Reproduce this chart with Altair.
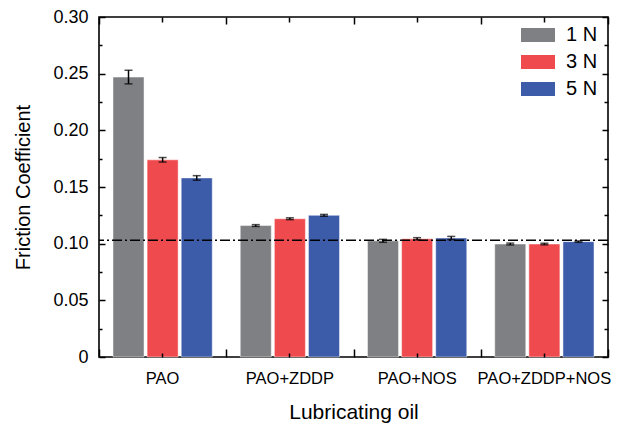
import altair as alt
import pandas as pd

oils = ["PAO", "PAO+ZDDP", "PAO+NOS", "PAO+ZDDP+NOS"]
loads = ["1 N", "3 N", "5 N"]
f_1n = [0.247, 0.116, 0.1025, 0.0997]
f_3n = [0.174, 0.122, 0.1043, 0.0997]
f_5n = [0.158, 0.125, 0.1050, 0.1018]
err_1n = [0.006, 0.0008, 0.0013, 0.0008]
err_3n = [0.002, 0.0008, 0.0010, 0.0007]
err_5n = [0.002, 0.0008, 0.0014, 0.0006]
ref_line = [0.103]
colors = ["#7f8083", "#ef4b4e", "#3c5ba9"]
y_major = [0, 0.05, 0.10, 0.15, 0.20, 0.25, 0.30]
y_minor = [0.025, 0.075, 0.125, 0.175, 0.225, 0.275]

rows = []
for load, fs, es in zip(loads, [f_1n, f_3n, f_5n], [err_1n, err_3n, err_5n]):
    for oil, f, e in zip(oils, fs, es):
        rows.append({"oil": oil, "load": load, "f": f, "lo": f - e, "hi": f + e})
df = pd.DataFrame(rows)
caps = df.melt(id_vars=["oil", "load"], value_vars=["lo", "hi"], value_name="cap")
line_df = pd.DataFrame({"y": ref_line})

W, H = 509, 340
FONT = "Liberation Sans"

xscale = alt.Scale(domain=oils, paddingInner=0, paddingOuter=0)
yscale = alt.Scale(domain=[0, 0.30], nice=False)
xoff = alt.XOffset("load:N", scale=alt.Scale(domain=loads, paddingInner=0.09, paddingOuter=0.41))


def tickax(**kw):
    base = dict(labels=False, domain=False, title=None, tickColor="black", tickWidth=1.5,
                zindex=1, grid=False)
    base.update(kw)
    return alt.Axis(**base)


bars = alt.Chart(df).mark_bar(stroke="white", strokeWidth=0.8, strokeOpacity=0.6).encode(
    x=alt.X("oil:N", scale=xscale, sort=oils,
            axis=alt.Axis(title="Lubricating oil", ticks=False, domain=False, labelAngle=0,
                          labelFontSize=16.5, labelColor="black", labelPadding=13,
                          titleFontSize=21, titleFontWeight="normal", titleColor="black",
                          titlePadding=15, grid=False)),
    xOffset=xoff,
    y=alt.Y("f:Q", scale=yscale,
            axis=alt.Axis(title="Friction Coefficient", values=y_major, ticks=False, domain=False,
                          labelExpr="datum.value == 0 ? '0' : format(datum.value, '.2f')",
                          labelFontSize=18, labelColor="black", labelPadding=11,
                          titleFontSize=20, titleFontWeight="normal", titleColor="black",
                          titlePadding=19, grid=False)),
    color=alt.Color("load:N", scale=alt.Scale(domain=loads, range=colors),
                    legend=alt.Legend(title=None, orient="none", legendX=422, legendY=1,
                                      symbolType="M-1,-0.41H1V0.41H-1Z", symbolSize=1156,
                                      symbolStrokeWidth=0, symbolOpacity=1,
                                      labelFontSize=20, labelColor="black", labelOffset=11,
                                      rowPadding=-8)),
)

rules = alt.Chart(df).mark_rule(color="black", strokeWidth=1.5).encode(
    x=alt.X("oil:N", scale=xscale, sort=oils,
            axis=tickax(orient="top", offset=-H, tickBand="extent", tickSize=8)),
    xOffset=xoff,
    y=alt.Y("lo:Q", scale=yscale, axis=tickax(orient="right", offset=-W, values=y_major, tickSize=6)),
    y2="hi:Q",
)

cap_ticks = alt.Chart(caps).mark_tick(color="black", size=8, thickness=1.5).encode(
    x=alt.X("oil:N", scale=xscale, sort=oils,
            axis=tickax(orient="top", offset=-H, tickBand="center", tickSize=4)),
    xOffset=xoff,
    y=alt.Y("cap:Q", scale=yscale, axis=tickax(orient="right", offset=-W, values=y_minor, tickSize=3)),
)

ghost1 = alt.Chart(df).mark_bar(opacity=0).encode(
    x=alt.X("oil:N", scale=xscale, sort=oils,
            axis=tickax(orient="bottom", offset=-H, tickBand="extent", tickSize=7)),
    y=alt.Y("f:Q", scale=yscale, axis=tickax(orient="left", offset=-W, values=y_major, tickSize=6)),
)

ghost2 = alt.Chart(df).mark_bar(opacity=0).encode(
    x=alt.X("oil:N", scale=xscale, sort=oils,
            axis=tickax(orient="bottom", offset=-H, tickBand="center", tickSize=5)),
    y=alt.Y("f:Q", scale=yscale, axis=tickax(orient="left", offset=-W, values=y_minor, tickSize=4)),
)

hline = alt.Chart(line_df).mark_rule(color="black", strokeWidth=1.6, strokeDash=[10, 3, 2, 3]).encode(
    y=alt.Y("y:Q", scale=yscale, axis=None),
)

chart = alt.layer(bars, rules, cap_ticks, ghost1, ghost2, hline).resolve_axis(
    x="independent", y="independent"
).properties(
    width=W, height=H,
    autosize=alt.AutoSizeParams(type="none"),
    padding={"left": 91, "top": 9, "right": 3, "bottom": 67},
).configure(font=FONT).configure_view(stroke="black", strokeWidth=1.6)

chart.save("out.html", embed_options={"renderer": "svg", "actions": False})
